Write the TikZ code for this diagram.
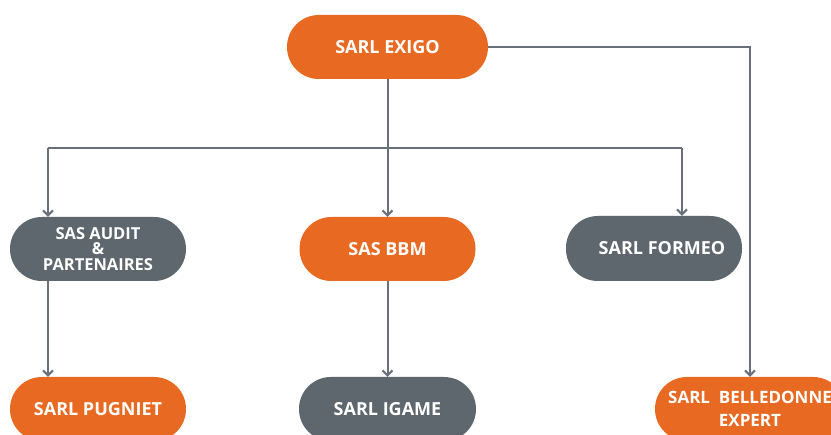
\documentclass[tikz,border=0pt]{standalone}
\usepackage{fontspec}
\setmainfont{Open Sans}
\usetikzlibrary{arrows.meta}
\definecolor{orgc}{HTML}{E86A22}
\definecolor{grc}{HTML}{5E666E}
\definecolor{linec}{HTML}{68707A}
\begin{document}
\begin{tikzpicture}[x=1pt,y=-1pt,
  box/.style={rectangle, rounded corners=31.9pt, minimum height=64pt, inner sep=0pt,
    text=white, font=\fontsize{18}{20}\selectfont\bfseries, align=center},
  obox/.style={box, fill=orgc},
  gbox/.style={box, fill=grc},
  conn/.style={draw=linec, line width=2pt},
  arr/.style={conn, -{Straight Barb[length=5pt,width=10pt]}}]
\useasboundingbox (0,0) rectangle (831,435);
\fill[white] (0,0) rectangle (831,435);
\node[obox, minimum width=201pt] (exigo) at (387.5,47) {SARL EXIGO};
\node[gbox, minimum width=176pt, font=\fontsize{16.5}{15.5}\selectfont\bfseries] (audit) at (98,249) {SAS AUDIT\\\&\\PARTENAIRES};
\node[obox, minimum width=176pt] (bbm) at (387.5,249) {SAS BBM};
\node[gbox, minimum width=176pt, minimum height=65pt] (formeo) at (654,248.5) {\hspace*{16pt}SARL FORMEO};
\node[obox, minimum width=176pt] (pugniet) at (98,409) {SARL PUGNIET};
\node[gbox, minimum width=177pt] (igame) at (387.5,409) {SARL IGAME};
\node[obox, minimum width=190pt, font=\fontsize{17}{23}\selectfont\bfseries] (belle) at (750,409) {SARL\ \ BELLEDONNE\\EXPERT};
\coordinate (busL) at (48,148);
\coordinate (busR) at (682,148);
\draw[conn] (busL) -- (busR);
\draw[arr] (busL) -- (busL |- audit.north);
\draw[arr] (busR) -- (busR |- formeo.north);
\draw[arr] (exigo) -- (bbm);
\draw[arr] (audit.south -| busL) -- (pugniet.north -| busL);
\draw[arr] (bbm) -- (igame);
\draw[arr] (exigo.east) -| (belle.north);
\end{tikzpicture}
\end{document}
